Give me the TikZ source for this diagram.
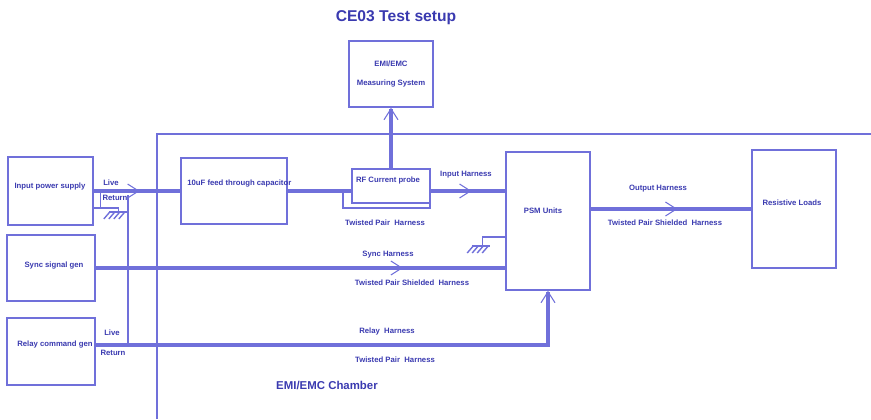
\documentclass[tikz,border=0pt]{standalone}
\usepackage{fontspec}
\setmainfont{Liberation Sans}
\usetikzlibrary{arrows.meta, calc, decorations.markings}

\definecolor{wire}{RGB}{112,112,218}
\definecolor{ink}{RGB}{58,58,176}

\tikzset{
  chev/.tip={Straight Barb[length=2.2mm, width=2.8mm, line width'=0.6pt]},
  blk/.style={draw=wire, line width=0.9pt, fill=white, inner sep=0pt},
  lbl/.style={text=ink, font=\fontsize{4.4}{5.3}\selectfont\bfseries, inner sep=0pt},
  harness/.style={wire, line width=1.9pt},
  lead/.style={wire, line width=0.8pt},
  flow/.style={postaction={decorate, decoration={markings,
      mark=at position #1 with {\arrow{chev}}}}},
  earth/.pic={
    \draw[lead] (-10,0) -- (8,0);
    \foreach \gx in {-9,-4,1,6} \draw[lead] (\gx,0) -- ++(-6,7);
  },
}

\begin{document}
\begin{tikzpicture}[x=0.02cm, y=-0.02cm]
\useasboundingbox (0,0) rectangle (871,419);

% Title
\node[text=ink, font=\fontsize{8.9}{10}\selectfont\bfseries, inner sep=0pt] (title) at (396,18) {CE03 Test setup};

% Chamber wall
\draw[wire, line width=1.1pt] (157,419) -- (157,134) -- (871,134);
\node[text=ink, font=\fontsize{6.5}{7.5}\selectfont\bfseries, inner sep=0pt] (chamberT) at (327,385) {EMI/EMC Chamber};

% Blocks
\node[blk, minimum width=1.68cm, minimum height=1.32cm] (emi) at (391,74) {};
\node[lbl, align=center] (emiT) at (emi) {EMI/EMC\\[5.4pt]Measuring System};

\node[blk, minimum width=1.70cm, minimum height=1.36cm] (ips) at (50.5,191) {};
\node[lbl] (ipsT) at (50,186) {Input power supply};

\node[blk, minimum width=1.76cm, minimum height=1.32cm] (sync) at (51,268) {};
\node[lbl] (syncT) at (54,266) {Sync signal gen};

\node[blk, minimum width=1.76cm, minimum height=1.34cm] (relay) at (51,351.5) {};
\node[lbl, anchor=west] (relayT) at (17,345) {Relay command gen};

\node[blk, minimum width=2.12cm, minimum height=1.32cm] (cap) at (234,191) {};
\node[lbl, anchor=west] (capT) at (187,184) {10uF feed through capacitor};

\node[blk, minimum width=1.68cm, minimum height=2.76cm] (psm) at (548,221) {};
\node[lbl] (psmT) at (543,211) {PSM Units};

\node[blk, minimum width=1.68cm, minimum height=2.36cm] (load) at (794,209) {};
\node[lbl] (loadT) at (792,203) {Resistive Loads};

% Power input, live and return
\draw[harness, flow=0.53] (ips.east) -- (cap.west);
\coordinate (ret) at ($(ips.east)+(0,17)$);
\draw[lead] ($(ips.east)+(7,0)$) -- ($(ret)+(7,0)$);
\draw[lead] (ret) -- ++(25,0) -- ++(0,4) pic {earth};
\node[lbl] (liveA) at (111,183) {Live};
\node[lbl] (retA) at (115,198) {Return};

% Input harness through the current probe
\draw[harness, flow=0.845] (cap.east) -- (cap.east -| psm.west);
\coordinate (tpL) at (343,191);
\coordinate (tpR) at (430,191);
\draw[lead] (tpL) -- ++(0,17) -| (tpR);
\node[blk, minimum width=1.56cm, minimum height=0.68cm] (probe) at (391,186) {};
\node[lbl] (probeT) at (388,180) {RF Current probe};
\draw[harness, -{chev}] (probe.north) -- (emi.south);
\node[lbl] (inHar) at (466,175) {Input Harness};
\node[lbl] (tpHar) at (385,223) {Twisted Pair\ \ Harness};

% PSM ground
\coordinate (psmG) at ($(psm.west)+(0,16)$);
\draw[lead] (psmG) -- ++(-23,0) -- ++(0,9) pic {earth};

% Sync harness
\draw[harness, flow=0.75] (sync.east) -- (sync.east -| psm.west);
\node[lbl] (syncHar) at (388,255) {Sync Harness};
\node[lbl] (syncTp) at (412,283) {Twisted Pair Shielded\ \ Harness};

% Relay harness
\draw[harness, -{chev}] (relay.east |- relayT) -| (psm.south);
\coordinate (busTop) at (128,195);
\draw[lead] (busTop) -- (busTop |- relayT);
\node[lbl] (liveB) at (112,333) {Live};
\node[lbl] (retB) at (113,353) {Return};
\node[lbl] (relayHar) at (387,331) {Relay\ \ Harness};
\node[lbl] (relayTp) at (395,360) {Twisted Pair\ \ Harness};

% Output harness
\draw[harness, flow=0.54] (load.west -| psm.east) -- (load.west);
\node[lbl] (outHar) at (658,189) {Output Harness};
\node[lbl] (outTp) at (665,223) {Twisted Pair Shielded\ \ Harness};

\end{tikzpicture}
\end{document}
